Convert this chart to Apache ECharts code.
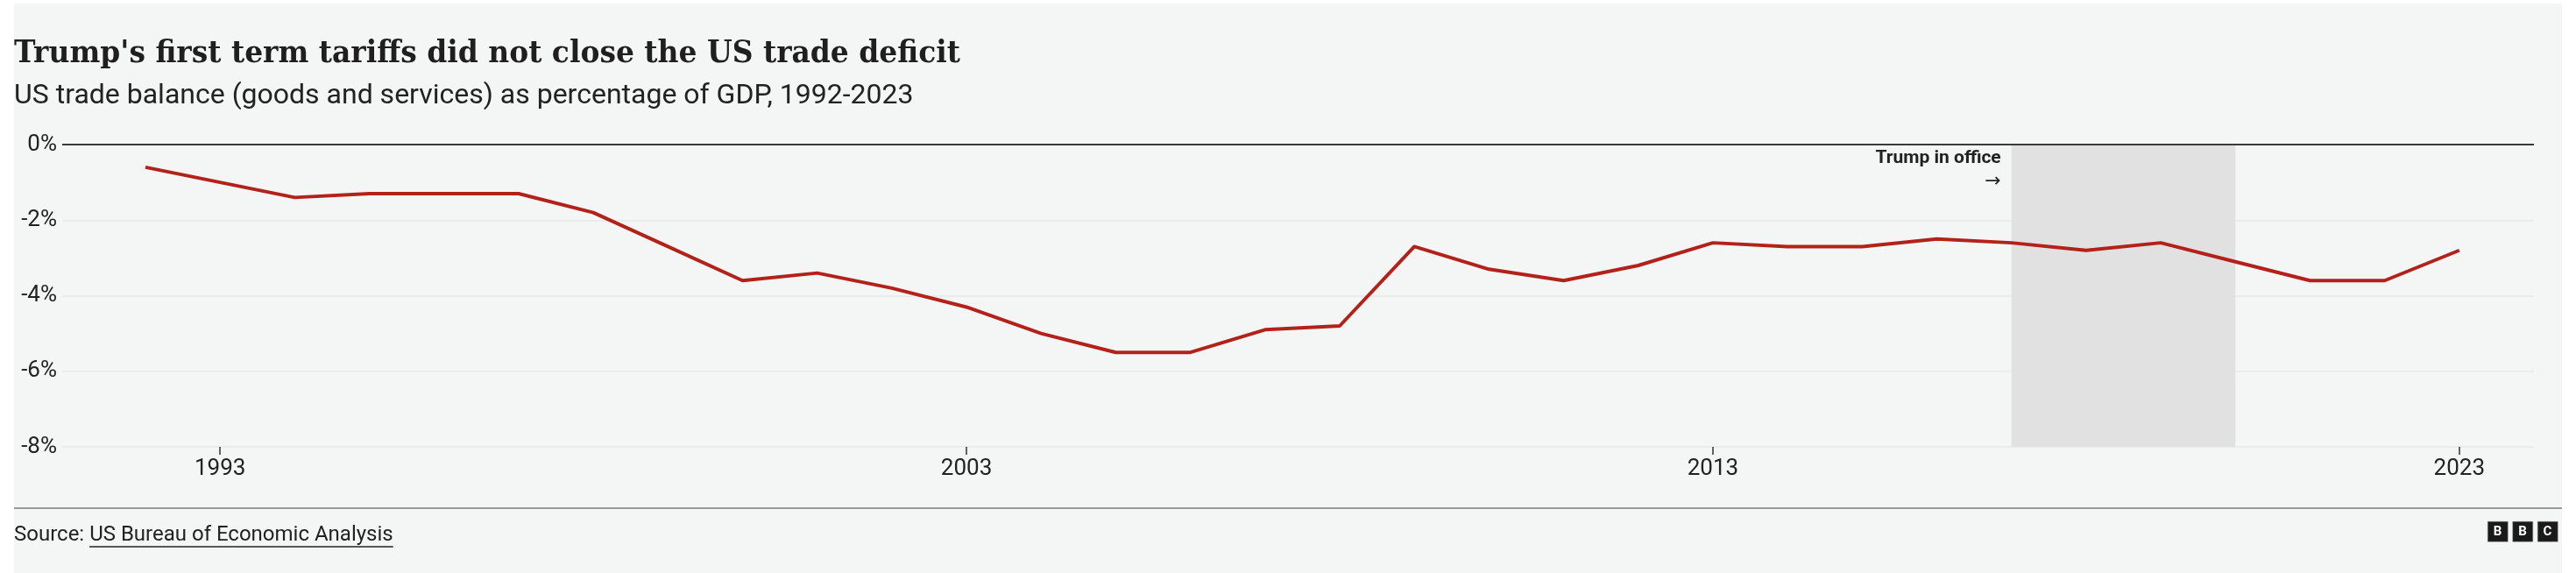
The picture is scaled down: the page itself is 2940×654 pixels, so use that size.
<!DOCTYPE html>
<html>
<head>
<meta charset="utf-8">
<script src="https://cdn.jsdelivr.net/npm/echarts@6/dist/echarts.min.js"></script>
<style>
  html, body { margin: 0; padding: 0; background: #ffffff; }
  #chart { position: absolute; left: 16px; top: 4px; width: 2908px; height: 650px; }
</style>
</head>
<body>
<div id="chart"></div>
<script>
// ---- Data ----
const years = [1992, 1993, 1994, 1995, 1996, 1997, 1998, 1999, 2000, 2001, 2002, 2003, 2004, 2005, 2006, 2007,
  2008, 2009, 2010, 2011, 2012, 2013, 2014, 2015, 2016, 2017, 2018, 2019, 2020, 2021, 2022, 2023];
const tradeBalance = [-0.6, -1.0, -1.4, -1.3, -1.3, -1.3, -1.8, -2.7, -3.6, -3.4, -3.8, -4.3, -5.0, -5.5, -5.5, -4.9,
  -4.8, -2.7, -3.3, -3.6, -3.2, -2.6, -2.7, -2.7, -2.5, -2.6, -2.8, -2.6, -3.1, -3.6, -3.6, -2.8];
const xTickYears = [1993, 2003, 2013, 2023];
const yTicks = [-8, -6, -4, -2, 0];
const trumpTerm = [2017, 2020];

const titleText = "Trump's first term tariffs did not close the US trade deficit";
const subtitleText = "US trade balance (goods and services) as percentage of GDP, 1992-2023";
const sourceLabel = "Source: ";
const sourceLink = "US Bureau of Economic Analysis";
const annotationText = "Trump in office";

// ---- Chart ----
const SANS = 'Roboto, "Noto Sans", sans-serif';
const TITLE_FONT = 'bold 36px "DejaVu Serif", serif';
const chart = echarts.init(document.getElementById('chart'), null, { renderer: 'canvas' });

const ctx = document.createElement('canvas').getContext('2d');
ctx.font = '24px Roboto';
const wLabel = ctx.measureText(sourceLabel).width;
const wLink = ctx.measureText(sourceLink).width;
ctx.font = TITLE_FONT;
const titleScale = 1080 / ctx.measureText(titleText).width;

const W = 2908;
const logoLetters = ['B', 'B', 'C'];
const logoGraphics = [];
logoLetters.forEach((ch, i) => {
  const x = W - 85 + i * 28.5;
  logoGraphics.push({
    type: 'rect', left: x, top: 591, shape: { width: 23, height: 23 },
    style: { fill: '#1a1a1a', stroke: '#888', lineWidth: 0.5 }
  });
  logoGraphics.push({
    type: 'text', x: x + 11.5, y: 603,
    style: { text: ch, fill: '#ffffff', font: 'bold 15px ' + SANS, textAlign: 'center', textVerticalAlign: 'middle' }
  });
});

const option = {
  backgroundColor: '#f4f6f5',
  animation: false,
  grid: { left: 55, right: 32, top: 161, bottom: 144, containLabel: false },
  xAxis: {
    type: 'value',
    position: 'bottom',
    min: 1990.885,
    max: 2024.0,
    axisLine: { show: false, onZero: false },
    splitLine: { show: false },
    axisTick: { show: true, customValues: xTickYears, length: 9, lineStyle: { color: '#333', width: 1.5 } },
    axisLabel: {
      customValues: xTickYears,
      color: '#222', fontFamily: SANS, fontSize: 26, margin: 12,
      formatter: v => String(v)
    }
  },
  yAxis: {
    type: 'value',
    min: -8, max: 0, interval: 2,
    axisLine: { show: false },
    axisTick: { show: false },
    splitLine: { show: true, lineStyle: { color: '#e6e8e7', width: 1.5 } },
    axisLabel: {
      color: '#222', fontFamily: SANS, fontSize: 26, margin: 6, align: 'right',
      formatter: v => v + '%'
    }
  },
  series: [{
    type: 'line',
    data: years.map((y, i) => [y, tradeBalance[i]]),
    showSymbol: false,
    symbol: 'none',
    lineStyle: { color: '#b3221a', width: 4 },
    z: 5,
    markArea: {
      silent: true,
      itemStyle: { color: '#e1e1e1' },
      label: {
        show: true,
        position: 'insideTopLeft',
        align: 'right',
        offset: [-17, -2],
        formatter: '{a|' + annotationText + '}\n{b|→}',
        rich: {
          a: { fontFamily: SANS, fontWeight: 'bold', fontSize: 21, color: '#222', lineHeight: 26, align: 'right' },
          b: { fontFamily: '"DejaVu Sans", sans-serif', fontSize: 22, color: '#222', lineHeight: 26, align: 'right' }
        }
      },
      data: [[{ xAxis: trumpTerm[0], yAxis: 0 }, { xAxis: trumpTerm[1], yAxis: -8 }]]
    },
    markLine: {
      silent: true,
      symbol: 'none',
      label: { show: false },
      lineStyle: { color: '#3a3a3a', width: 2, type: 'solid' },
      data: [{ yAxis: 0 }]
    }
  }],
  graphic: [
    {
      type: 'text', x: 0, y: 58, scaleX: titleScale,
      style: { text: titleText, fill: '#1f1f1f', font: TITLE_FONT, textVerticalAlign: 'middle' }
    },
    {
      type: 'text', x: 0, y: 106,
      style: { text: subtitleText, fill: '#222', font: '32px ' + SANS, textVerticalAlign: 'middle' }
    },
    {
      type: 'line', shape: { x1: 0, y1: 576, x2: W, y2: 576 },
      style: { stroke: '#7a7a7a', lineWidth: 1.5 }
    },
    {
      type: 'text', x: 0, y: 607,
      style: { text: sourceLabel, fill: '#222', font: '24px ' + SANS, textVerticalAlign: 'middle' }
    },
    {
      type: 'text', x: wLabel, y: 607,
      style: { text: sourceLink, fill: '#222', font: '24px ' + SANS, textVerticalAlign: 'middle' }
    },
    {
      type: 'line', shape: { x1: wLabel, y1: 620, x2: wLabel + wLink, y2: 620 },
      style: { stroke: '#222', lineWidth: 1.5 }
    }
  ].concat(logoGraphics)
};
chart.setOption(option);
</script>
</body>
</html>
